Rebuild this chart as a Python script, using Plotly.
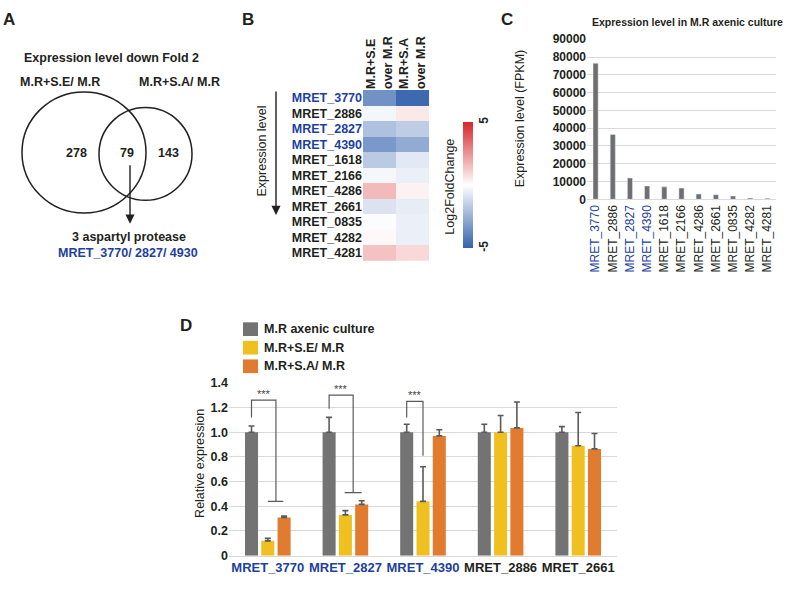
import plotly.graph_objects as go

W, H = 791, 589
def px(x): return x / W
def py(y): return 1 - y / H

FONT = "Liberation Sans, Arial, sans-serif"
BLUE_TXT = "#1d3f9e"
DARK = "#231f20"

# ---------------- data ----------------
hm_genes = ["MRET_3770", "MRET_2886", "MRET_2827", "MRET_4390", "MRET_1618", "MRET_2166",
            "MRET_4286", "MRET_2661", "MRET_0835", "MRET_4282", "MRET_4281"]
highlight = ["MRET_3770", "MRET_2827", "MRET_4390"]
hm_cols = ["M.R+S.E<br>over M.R", "M.R+S.A<br>over M.R"]
lfc_se = [-3.5, -0.3, -2.0, -3.3, -1.7, -0.25, 1.6, -0.9, -0.1, 0.15, 1.4]
lfc_sa = [-4.8, 0.5, -1.6, -2.7, -0.7, -0.5, 0.3, -0.6, -0.5, -0.5, 0.9]

fpkm = [76500, 36500, 12000, 7500, 7000, 6300, 3000, 2600, 1800, 700, 600]
fpkm_ticks = [0, 10000, 20000, 30000, 40000, 50000, 60000, 70000, 80000, 90000]

d_genes = ["MRET_3770", "MRET_2827", "MRET_4390", "MRET_2886", "MRET_2661"]
axenic = [1.0, 1.0, 1.0, 1.0, 1.0]
axenic_err = [0.05, 0.12, 0.065, 0.065, 0.045]
se = [0.12, 0.33, 0.44, 1.0, 0.89]
se_err = [0.02, 0.035, 0.28, 0.135, 0.27]
sa = [0.31, 0.415, 0.97, 1.035, 0.865]
sa_err = [0.01, 0.03, 0.05, 0.21, 0.125]
d_ticks = [0, 0.2, 0.4, 0.6, 0.8, 1.0, 1.2, 1.4]
d_ticktext = ["0", "0.2", "0.4", "0.6", "0.8", "1.0", "1.2", "1.4"]
series_names = ["M.R axenic culture", "M.R+S.E/ M.R", "M.R+S.A/ M.R"]
series_colors = ["#737373", "#efc020", "#e07b30"]

venn_counts = ["278", "79", "143"]

# significance brackets: group idx, left-leg bottom, top, right-leg x offset, right-leg bottom, crossbar
brackets = [
    dict(g=0, yl=1.12, yt=1.26, xr=0.105, yr=0.44, bar=(0.0, 0.2)),
    dict(g=1, yl=1.19, yt=1.30, xr=0.10, yr=0.51, bar=(-0.01, 0.21)),
    dict(g=2, yl=1.12, yt=1.25, xr=0.0, yr=0.81, bar=None),
]

def colored(g, bold=True):
    c = BLUE_TXT if g in highlight else DARK
    t = f"<b>{g}</b>" if bold else g
    return f"<span style='color:{c}'>{t}</span>"

fig = go.Figure()

# ---------------- B heatmap ----------------
z = [[a, b] for a, b in zip(lfc_se, lfc_sa)]
fig.add_trace(go.Heatmap(
    z=z, x=[0, 1], y=list(range(len(hm_genes))), zmin=-5, zmax=5,
    colorscale=[[0, "#3563ad"], [0.5, "#ffffff"], [1, "#d7262a"]],
    xaxis="x", yaxis="y", hoverinfo="skip",
    colorbar=dict(x=px(463), xanchor="left", y=py(182.5), yanchor="middle",
                  len=129 / H, lenmode="fraction", thickness=10, outlinewidth=0,
                  tickvals=[-5, 5], ticktext=["-5", "5"], ticks="", tickangle=-90,
                  tickfont=dict(family=FONT, size=12, color=DARK, weight="bold"),
                  xpad=0, ypad=0),
))

# ---------------- C bars ----------------
fig.add_trace(go.Bar(
    x=list(range(len(hm_genes))), y=fpkm, marker_color="#6f6f6f", width=0.3,
    xaxis="x2", yaxis="y2", showlegend=False, hoverinfo="skip",
))

# ---------------- D bars ----------------
for name, vals, errs, col in zip(series_names, [axenic, se, sa],
                                 [axenic_err, se_err, sa_err], series_colors):
    fig.add_trace(go.Bar(
        x=list(range(len(d_genes))), y=vals, name=name, marker_color=col,
        marker_line_width=0, xaxis="x3", yaxis="y3", showlegend=False, hoverinfo="skip",
        error_y=dict(type="data", array=errs, arrayminus=[0] * len(errs), symmetric=False,
                     color="#5a5a5a", thickness=1.6, width=3),
    ))

shapes = []
annotations = []

# brackets in D
for b in brackets:
    g = b["g"]
    xl = g - 0.21
    xr = g + b["xr"]
    line = dict(color="#5a5a5a", width=1.2)
    shapes.append(dict(type="path", xref="x3", yref="y3",
                       path=f"M {xl},{b['yl']} L {xl},{b['yt']} L {xr},{b['yt']} L {xr},{b['yr']}",
                       line=line))
    if b["bar"]:
        shapes.append(dict(type="line", xref="x3", yref="y3",
                           x0=g + b["bar"][0], x1=g + b["bar"][1], y0=b["yr"], y1=b["yr"], line=line))
    annotations.append(dict(xref="x3", yref="y3", x=(xl + xr) / 2, y=b["yt"], text="***",
                            showarrow=False, yanchor="bottom", yshift=-2,
                            font=dict(family=FONT, size=11, color="#444")))

# legend of D (manual)
leg_y = [330, 349, 368]
for name, col, yy in zip(series_names, series_colors, leg_y):
    shapes.append(dict(type="rect", xref="paper", yref="paper", x0=px(243), x1=px(258),
                       y0=py(yy + 7), y1=py(yy - 7), fillcolor=col, line_width=0))
    annotations.append(dict(xref="paper", yref="paper", x=px(262), y=py(yy), text=name,
                            showarrow=False, xanchor="left", yanchor="middle",
                            font=dict(family=FONT, size=12.5, color=DARK, weight="bold")))

# Venn circles (A)
shapes.append(dict(type="circle", xref="paper", yref="paper", x0=px(22), x1=px(146),
                   y0=py(211), y1=py(87), line=dict(color=DARK, width=1.5)))
shapes.append(dict(type="circle", xref="paper", yref="paper", x0=px(99), x1=px(192),
                   y0=py(198), y1=py(103), line=dict(color=DARK, width=1.5)))

def txt(x, y, text, size=12, bold=True, color=DARK, angle=0, xanchor="center"):
    annotations.append(dict(xref="paper", yref="paper", x=px(x), y=py(y), text=text,
                            showarrow=False, xanchor=xanchor, yanchor="middle", textangle=angle,
                            font=dict(family=FONT, size=size, color=color,
                                      weight="bold" if bold else "normal")))

# panel letters
txt(9, 13, "A", size=17)
txt(248, 13, "B", size=17)
txt(507, 13, "C", size=17)
txt(186, 326, "D", size=17)

# A texts
txt(111, 52, "Expression level down Fold 2", size=12.5)
txt(60, 77, "M.R+S.E/ M.R", size=12.5)
txt(179, 77, "M.R+S.A/ M.R", size=12.5)
for (cx, v) in zip([76, 127, 168], venn_counts):
    txt(cx, 150, v, size=12.5)
txt(129, 236, "3 aspartyl protease", size=12.5)
txt(128, 252, "MRET_3770/ 2827/ 4930", size=12.5, color=BLUE_TXT)
annotations.append(dict(xref="paper", yref="paper", x=px(130), y=py(222), ax=0, ay=-60,
                        showarrow=True, arrowhead=2,
                        arrowsize=1.3, arrowwidth=1.4, arrowcolor=DARK, text=""))

# B extras
annotations.append(dict(xref="paper", yref="paper", x=px(276), y=py(213), ax=0, ay=-125,
                        showarrow=True, arrowhead=2, arrowsize=1.3, arrowwidth=1.4,
                        arrowcolor=DARK, text=""))
txt(262, 148, "Expression level", size=12.5, bold=False, angle=-90)
txt(450, 184, "Log2FoldChange", size=12.5, bold=False, angle=-90)

# C extras
txt(687, 15, "Expression level in M.R axenic culture", size=10.5)
txt(520, 114, "Expression level (FPKM)", size=12.5, bold=False, angle=-90)

# D extras
txt(200, 467, "Relative expression", size=12.5, bold=False, angle=-90)

grid = "#d9d9d9"
fig.update_layout(
    width=W, height=H, margin=dict(l=0, r=0, t=0, b=0),
    paper_bgcolor="white", plot_bgcolor="white",
    barmode="group", bargap=0.37, bargroupgap=0.2,
    showlegend=False,
    font=dict(family=FONT, color=DARK),
    shapes=shapes, annotations=annotations,
    xaxis=dict(domain=[px(363), px(429)], anchor="y", range=[-0.5, 1.5], side="top",
               tickvals=[0, 1], ticktext=[f"<b>{c}</b>" for c in hm_cols], tickangle=-90,
               tickfont=dict(family=FONT, size=12.5, color=DARK), showgrid=False,
               zeroline=False, ticks="", showline=False),
    yaxis=dict(domain=[py(260), py(85)], anchor="x", range=[10.5, -0.5],
               tickvals=list(range(len(hm_genes))), ticktext=[colored(g) for g in hm_genes],
               tickfont=dict(family=FONT, size=12.5), showgrid=False, zeroline=False,
               ticks="", showline=False),
    xaxis2=dict(domain=[px(587), px(776)], anchor="y2", range=[-0.5, 10.5],
                tickvals=list(range(len(hm_genes))), ticktext=[colored(g, bold=False) for g in hm_genes],
                tickangle=-90, tickfont=dict(family=FONT, size=12), showgrid=False,
                zeroline=False, ticks="", showline=True, linecolor=grid, linewidth=1),
    yaxis2=dict(domain=[py(197), py(33)], anchor="x2", range=[0, 90000], tickvals=fpkm_ticks,
                ticktext=[str(t) for t in fpkm_ticks],
                tickfont=dict(family=FONT, size=12, color=DARK, weight="bold"),
                showgrid=True, gridcolor=grid, gridwidth=1, zeroline=False, ticks="",
                showline=False),
    xaxis3=dict(domain=[px(229), px(617)], anchor="y3", range=[-0.5, 4.5],
                tickvals=list(range(len(d_genes))), ticktext=[colored(g) for g in d_genes],
                tickfont=dict(family=FONT, size=13), showgrid=False, zeroline=False,
                ticks="", showline=True, linecolor=grid, linewidth=1),
    yaxis3=dict(domain=[py(562), py(385)], anchor="x3", range=[0, 1.4], tickvals=d_ticks,
                ticktext=d_ticktext,
                tickfont=dict(family=FONT, size=12.5, color=DARK, weight="bold"),
                showgrid=True, gridcolor=grid, gridwidth=1, zeroline=False, ticks="",
                showline=False),
)

# remove the browser's default page margin so the figure fills the window exactly
fig.write_html("out.html", config={"displayModeBar": False},
               post_script="document.body.style.margin='0';document.body.style.overflow='hidden';")
